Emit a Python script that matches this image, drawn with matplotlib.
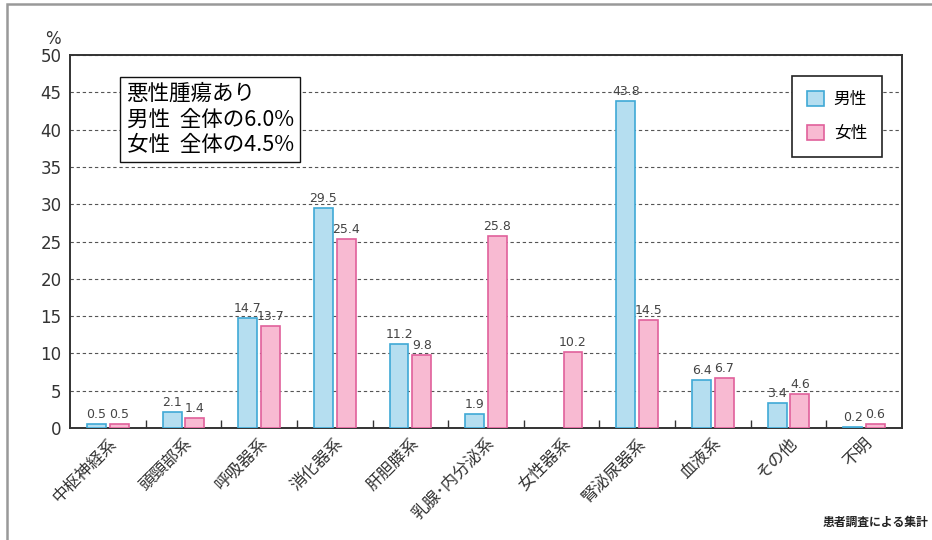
import numpy as np
import matplotlib.pyplot as plt
from matplotlib.patches import Rectangle

plt.rcParams['font.family'] = ['Noto Sans CJK JP', 'DejaVu Sans']

categories = ['中枢神経系', '頭頸部系', '呼吸器系', '消化器系', '肝胆膵系', '乳腺･内分泌系',
              '女性器系', '腎泌尿器系', '血液系', 'その他', '不明']
male = [0.5, 2.1, 14.7, 29.5, 11.2, 1.9, np.nan, 43.8, 6.4, 3.4, 0.2]
female = [0.5, 1.4, 13.7, 25.4, 9.8, 25.8, 10.2, 14.5, 6.7, 4.6, 0.6]
yticks = [0, 5, 10, 15, 20, 25, 30, 35, 40, 45, 50]

male_fill, male_edge = '#b5def0', '#3fa9d6'
female_fill, female_edge = '#f8bad2', '#e0609b'

fig = plt.figure(figsize=(9.32, 5.40), dpi=100)
ax = fig.add_axes([0.0751, 0.2074, 0.8927, 0.6906])

# outer frame of the whole figure
fig.patches.append(Rectangle((0.0075, -0.05), 1.1, 1.043, transform=fig.transFigure,
                             fill=False, edgecolor='#999999', linewidth=1.8))

x = np.arange(len(categories))
w = 0.25
off = 0.15
ax.bar(x - off, male, w, color=male_fill, edgecolor=male_edge, linewidth=1.2, label='男性', zorder=3)
ax.bar(x + off, female, w, color=female_fill, edgecolor=female_edge, linewidth=1.2, label='女性', zorder=3)

for xi, v in zip(x, male):
    if not np.isnan(v):
        ax.text(xi - off, v + 0.4, f'{v:.1f}', ha='center', va='bottom', fontsize=9,
                color='#444444', family=['DejaVu Sans'], zorder=4)
for xi, v in zip(x, female):
    ax.text(xi + off, v + 0.4, f'{v:.1f}', ha='center', va='bottom', fontsize=9,
            color='#444444', family=['DejaVu Sans'], zorder=4)

ax.set_xlim(-0.5, len(categories) - 0.5)
ax.set_ylim(0, 50)
ax.set_yticks(yticks)
ax.set_yticklabels([str(t) for t in yticks], fontsize=12, color='#333333', family=['DejaVu Sans'])
ax.tick_params(axis='y', length=0, pad=6)
ax.yaxis.grid(True, linestyle=(0, (3, 2.5)), color='#555555', linewidth=0.8, zorder=0)

# category labels, boundary ticks pointing inward
ax.set_xticks(x)
ax.set_xticklabels(categories, rotation=45, ha='right', rotation_mode='anchor',
                   fontsize=12, color='#333333')
ax.tick_params(axis='x', length=0, pad=5)
ax.set_xticks(np.arange(0.5, len(categories) - 1, 1), minor=True)
ax.tick_params(axis='x', which='minor', direction='in', length=6, color='#333333', width=1)

for s in ax.spines.values():
    s.set_color('#333333')
    s.set_linewidth(1.4)

ax.text(-0.02, 1.02, '%', transform=ax.transAxes, fontsize=12, color='#333333',
        ha='center', va='bottom', family=['DejaVu Sans'])

ax.text(0.068, 0.925, '悪性腫瘍あり\n男性  全体の6.0%\n女性  全体の4.5%',
        transform=ax.transAxes, fontsize=15.5, va='top', ha='left', linespacing=1.2,
        bbox=dict(boxstyle='square,pad=0.3', facecolor='white', edgecolor='#111111', linewidth=1),
        zorder=5)

leg = ax.legend(loc='upper right', bbox_to_anchor=(0.976, 0.944), borderaxespad=0,
                fontsize=12, fancybox=False, edgecolor='#222222', framealpha=1,
                handlelength=1.0, handleheight=1.0, handletextpad=0.6,
                borderpad=0.9, labelspacing=1.0)
leg.get_frame().set_linewidth(1.2)
leg.set_zorder(5)

fig.text(0.996, 0.02, '患者調査による集計', ha='right', va='bottom', fontsize=8.5,
         color='#222222', fontweight='bold')

fig.savefig('out.png', dpi=100, facecolor='white')
